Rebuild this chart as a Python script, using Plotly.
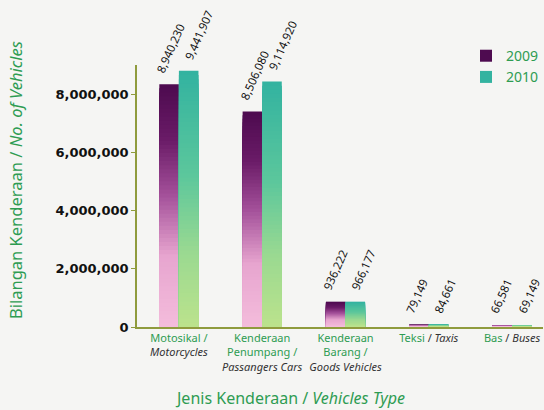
import plotly.graph_objects as go
from plotly.colors import sample_colorscale

categories = ["Motosikal", "Kenderaan Penumpang", "Kenderaan Barang", "Teksi", "Bas"]
tick_labels = [
    "<span style='color:#2e9c52'>Motosikal /</span><br><i>Motorcycles</i>",
    "<span style='color:#2e9c52'>Kenderaan<br>Penumpang /</span><br><i>Passangers Cars</i>",
    "<span style='color:#2e9c52'>Kenderaan<br>Barang /</span><br><i>Goods Vehicles</i>",
    "<span style='color:#2e9c52'>Teksi</span> / <i>Taxis</i>",
    "<span style='color:#2e9c52'>Bas</span> / <i>Buses</i>",
]
years = ["2009", "2010"]

# bar heights as drawn in the picture
bars_2009 = [8340000, 7400000, 870000, 79149, 66581]
bars_2010 = [8800000, 8430000, 870000, 84661, 69149]
# value labels as printed above the bars
labels_2009 = ["8,940,230", "8,506,080", "936,222", "79,149", "66,581"]
labels_2010 = ["9,441,907", "9,114,920", "966,177", "84,661", "69,149"]

green = "#2e9c52"
olive = "#8f9b3d"

scales = {
    "2009": [[0, "#f4bddc"], [0.3, "#e7a5cf"], [0.55, "#a4519a"], [0.78, "#6a1b67"], [1, "#4e0b50"]],
    "2010": [[0, "#bde38c"], [0.3, "#9ad991"], [0.6, "#5cc79c"], [1, "#33b3a0"]],
}

fig = go.Figure()

steps = 60
for year, vals in zip(years, [bars_2009, bars_2010]):
    # vertical gradient: nested bars, tallest first
    for k in range(steps):
        h = 1 - k / steps
        fig.add_trace(go.Bar(
            x=categories, y=[v * h for v in vals],
            offsetgroup=year, name=year,
            marker=dict(color=sample_colorscale(scales[year], h)[0], line_width=0),
            showlegend=(k == 0), hoverinfo="skip",
        ))

# rotated value labels sitting above each bar of the pair
label_shift = {"2009": -27, "2010": 1}
notes = []
for year, vals, labs in zip(years, [bars_2009, bars_2010], [labels_2009, labels_2010]):
    for cat, v, t in zip(categories, vals, labs):
        notes.append(dict(
            x=cat, y=v, xref="x", yref="y", text=t, textangle=-66, showarrow=False,
            xanchor="left", yanchor="bottom", xshift=label_shift[year], yshift=8,
            borderpad=0, font=dict(family="Noto Sans", size=11.5, color="#111111"),
        ))

notes += [
    dict(text="Bilangan Kenderaan / <i>No. of Vehicles</i>", textangle=-90,
         xref="paper", yref="paper", x=-0.332, y=0.56, showarrow=False,
         font=dict(size=16.5, color=green)),
    dict(text="Jenis Kenderaan / <i>Vehicles Type</i>",
         xref="paper", yref="paper", x=0.376, y=-0.321, showarrow=False,
         font=dict(size=16, color=green)),
]

fig.update_layout(
    width=544, height=410,
    margin=dict(l=137, r=0, t=65, b=83),
    paper_bgcolor="#f5f5f3", plot_bgcolor="#f5f5f3",
    barmode="group", bargap=0.53, bargroupgap=0,
    font=dict(family="Noto Sans", color="#333333"),
    legend=dict(x=0.81, y=1.095, xanchor="left", yanchor="top",
                bgcolor="rgba(0,0,0,0)", font=dict(size=14, color=green)),
    xaxis=dict(
        tickmode="array", tickvals=categories, ticktext=tick_labels,
        range=[-0.503, 4.371], showline=True, linecolor=olive, linewidth=1.5,
        ticks="", tickfont=dict(size=11, color="#333333"),
    ),
    yaxis=dict(
        range=[0, 9000000], tickvals=[0, 2000000, 4000000, 6000000, 8000000],
        tickformat=",d", showgrid=False, zeroline=False,
        showline=True, linecolor=olive, linewidth=1.5,
        ticks="outside", ticklen=4, tickcolor=olive,
        tickfont=dict(family="DejaVu Sans", size=13, color="#111111", weight="bold"),
    ),
    annotations=notes,
)

fig.write_html("out.html", config={"displayModeBar": False},
               post_script="document.body.style.margin='0';")
